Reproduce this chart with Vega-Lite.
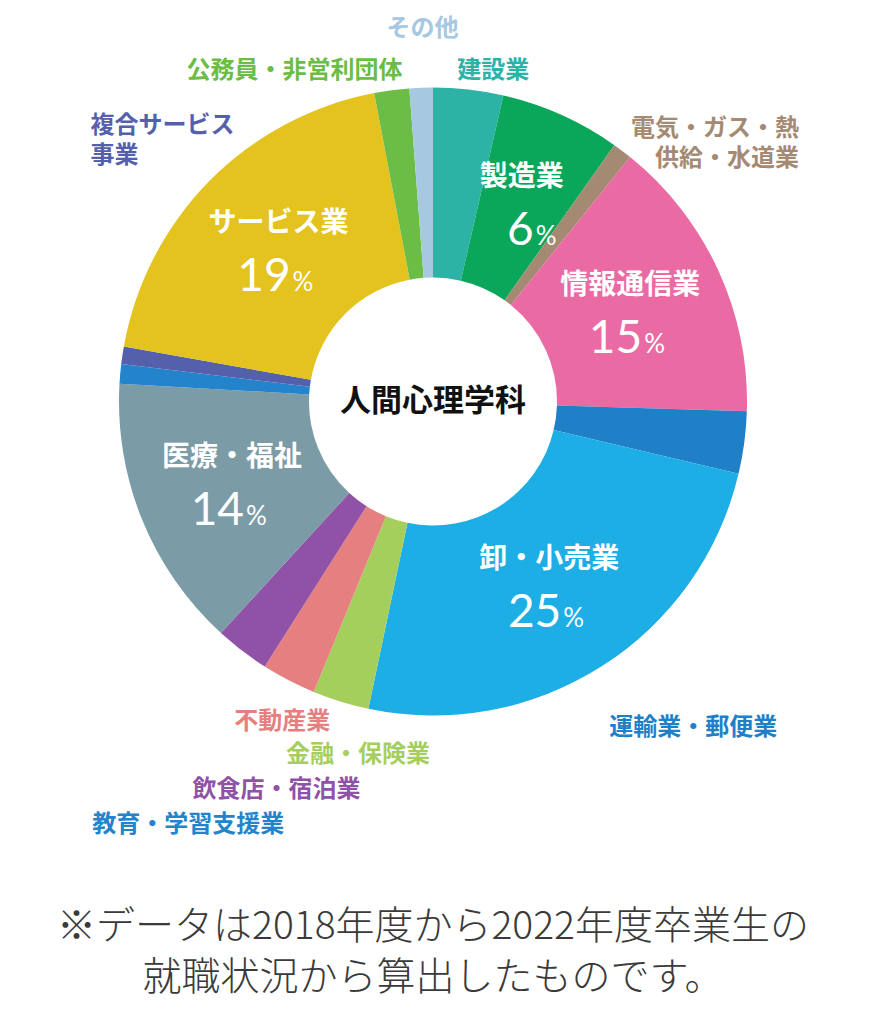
{
  "$schema": "https://vega.github.io/schema/vega-lite/v6.json",
  "width": 866,
  "height": 803,
  "autosize": {"type": "none"},
  "padding": {"left": 0, "top": 0, "right": 28, "bottom": 221},
  "background": "white",
  "config": {"view": {"stroke": null}},
  "title": {
    "text": ["※データは2018年度から2022年度卒業生の", "就職状況から算出したものです。"],
    "orient": "none",
    "anchor": "middle",
    "align": "center",
    "frame": "group",
    "dx": 433,
    "dy": 908,
    "baseline": "top",
    "font": "Noto Sans CJK JP",
    "fontSize": 39,
    "fontWeight": 300,
    "color": "#3a3a3a",
    "lineHeight": 51
  },
  "datasets": {
    "jobs": [
      {"rank": 1, "industry": "建設業", "label": "建設業", "share": 3.6},
      {"rank": 2, "industry": "製造業", "label": "製造業", "share": 6.2},
      {"rank": 3, "industry": "電気・ガス・熱供給・水道業", "label": "電気・ガス・熱\n供給・水道業", "share": 1.0},
      {"rank": 4, "industry": "情報通信業", "label": "情報通信業", "share": 14.7},
      {"rank": 5, "industry": "運輸業・郵便業", "label": "運輸業・郵便業", "share": 3.2},
      {"rank": 6, "industry": "卸・小売業", "label": "卸・小売業", "share": 24.6},
      {"rank": 7, "industry": "金融・保険業", "label": "金融・保険業", "share": 2.9},
      {"rank": 8, "industry": "不動産業", "label": "不動産業", "share": 2.8},
      {"rank": 9, "industry": "飲食店・宿泊業", "label": "飲食店・宿泊業", "share": 2.8},
      {"rank": 10, "industry": "医療・福祉", "label": "医療・福祉", "share": 14.1},
      {"rank": 11, "industry": "教育・学習支援業", "label": "教育・学習支援業", "share": 1.0},
      {"rank": 12, "industry": "複合サービス事業", "label": "複合サービス\n事業", "share": 0.9},
      {"rank": 13, "industry": "サービス業", "label": "サービス業", "share": 19.2},
      {"rank": 14, "industry": "公務員・非営利団体", "label": "公務員・非営利団体", "share": 1.8},
      {"rank": 15, "industry": "その他", "label": "その他", "share": 1.2}
    ],
    "center": [{"dept": "人間心理学科"}]
  },
  "layer": [
    {
      "data": {"name": "jobs"},
      "encoding": {
        "theta": {"field": "share", "type": "quantitative", "stack": true},
        "order": {"field": "rank", "type": "quantitative", "sort": "ascending"}
      },
      "layer": [
        {
          "mark": {"type": "arc", "outerRadius": 314, "innerRadius": 124},
          "encoding": {
            "color": {
              "field": "industry",
              "type": "nominal",
              "legend": null,
              "scale": {
                "domain": ["建設業", "製造業", "電気・ガス・熱供給・水道業", "情報通信業", "運輸業・郵便業", "卸・小売業", "金融・保険業", "不動産業", "飲食店・宿泊業", "医療・福祉", "教育・学習支援業", "複合サービス事業", "サービス業", "公務員・非営利団体", "その他"],
                "range": ["#2db3a6", "#0aa65a", "#a48a72", "#ea6aa3", "#1f80c8", "#1eaee6", "#a5cf5c", "#e67f80", "#8f52a6", "#7b9ba6", "#2384cc", "#5560ad", "#e4c31f", "#6bbd45", "#a6c8e0"]
              }
            }
          }
        },
        {
          "mark": {"type": "text", "radius": 217, "dy": -25, "font": "Noto Sans CJK JP", "fontWeight": "bold", "fontSize": 28, "color": "white", "align": "center", "baseline": "middle"},
          "encoding": {
            "text": {"condition": {"test": "indexof(['製造業','情報通信業','卸・小売業','医療・福祉','サービス業'], datum.industry) >= 0", "field": "label"}, "value": ""}
          }
        },
        {
          "mark": {"type": "text", "radius": 217, "dx": 12, "dy": 42, "font": "Lato", "fontSize": 46, "color": "white", "align": "right", "baseline": "alphabetic"},
          "encoding": {
            "text": {"condition": {"test": "indexof(['製造業','情報通信業','卸・小売業','医療・福祉','サービス業'], datum.industry) >= 0", "field": "share", "type": "quantitative", "format": ".0f"}, "value": ""}
          }
        },
        {
          "mark": {"type": "text", "radius": 217, "dx": 14, "dy": 42, "font": "Lato", "fontSize": 26, "color": "white", "align": "left", "baseline": "alphabetic"},
          "encoding": {
            "text": {"condition": {"test": "indexof(['製造業','情報通信業','卸・小売業','医療・福祉','サービス業'], datum.industry) >= 0", "value": "%"}, "value": ""}
          }
        },
        {
          "mark": {"type": "text", "radius": 330, "dx": 2, "dy": -43, "font": "Noto Sans CJK JP", "fontWeight": "bold", "fontSize": 24, "align": "center", "baseline": "middle"},
          "encoding": {
            "color": {"field": "industry", "type": "nominal", "legend": null},
            "text": {"condition": {"test": "datum.industry === 'その他'", "field": "label"}, "value": ""}
          }
        },
        {
          "mark": {"type": "text", "radius": 330, "dx": 23, "dy": -3, "font": "Noto Sans CJK JP", "fontWeight": "bold", "fontSize": 24, "align": "center", "baseline": "middle"},
          "encoding": {
            "color": {"field": "industry", "type": "nominal", "legend": null},
            "text": {"condition": {"test": "datum.industry === '建設業'", "field": "label"}, "value": ""}
          }
        },
        {
          "mark": {"type": "text", "radius": 330, "dx": -95, "dy": -3, "font": "Noto Sans CJK JP", "fontWeight": "bold", "fontSize": 24, "align": "center", "baseline": "middle"},
          "encoding": {
            "color": {"field": "industry", "type": "nominal", "legend": null},
            "text": {"condition": {"test": "datum.industry === '公務員・非営利団体'", "field": "label"}, "value": ""}
          }
        },
        {
          "mark": {"type": "text", "radius": 330, "dx": 167, "dy": -9, "font": "Noto Sans CJK JP", "fontWeight": "bold", "fontSize": 24, "align": "right", "baseline": "middle", "lineBreak": "\n", "lineHeight": 30},
          "encoding": {
            "color": {"field": "industry", "type": "nominal", "legend": null},
            "text": {"condition": {"test": "datum.industry === '電気・ガス・熱供給・水道業'", "field": "label"}, "value": ""}
          }
        },
        {
          "mark": {"type": "text", "radius": 330, "dx": -67, "dy": 283, "font": "Noto Sans CJK JP", "fontWeight": "bold", "fontSize": 24, "align": "center", "baseline": "middle"},
          "encoding": {
            "color": {"field": "industry", "type": "nominal", "legend": null},
            "text": {"condition": {"test": "datum.industry === '運輸業・郵便業'", "field": "label"}, "value": ""}
          }
        },
        {
          "mark": {"type": "text", "radius": 330, "dx": 22, "dy": 38, "font": "Noto Sans CJK JP", "fontWeight": "bold", "fontSize": 24, "align": "center", "baseline": "middle"},
          "encoding": {
            "color": {"field": "industry", "type": "nominal", "legend": null},
            "text": {"condition": {"test": "datum.industry === '金融・保険業'", "field": "label"}, "value": ""}
          }
        },
        {
          "mark": {"type": "text", "radius": 330, "dx": 1, "dy": 27, "font": "Noto Sans CJK JP", "fontWeight": "bold", "fontSize": 24, "align": "center", "baseline": "middle"},
          "encoding": {
            "color": {"field": "industry", "type": "nominal", "legend": null},
            "text": {"condition": {"test": "datum.industry === '不動産業'", "field": "label"}, "value": ""}
          }
        },
        {
          "mark": {"type": "text", "radius": 330, "dx": 44, "dy": 126, "font": "Noto Sans CJK JP", "fontWeight": "bold", "fontSize": 24, "align": "center", "baseline": "middle"},
          "encoding": {
            "color": {"field": "industry", "type": "nominal", "legend": null},
            "text": {"condition": {"test": "datum.industry === '飲食店・宿泊業'", "field": "label"}, "value": ""}
          }
        },
        {
          "mark": {"type": "text", "radius": 330, "dx": 84, "dy": 452, "font": "Noto Sans CJK JP", "fontWeight": "bold", "fontSize": 24, "align": "center", "baseline": "middle"},
          "encoding": {
            "color": {"field": "industry", "type": "nominal", "legend": null},
            "text": {"condition": {"test": "datum.industry === '教育・学習支援業'", "field": "label"}, "value": ""}
          }
        },
        {
          "mark": {"type": "text", "radius": 330, "dx": -16, "dy": -227, "font": "Noto Sans CJK JP", "fontWeight": "bold", "fontSize": 24, "align": "left", "baseline": "middle", "lineBreak": "\n", "lineHeight": 30},
          "encoding": {
            "color": {"field": "industry", "type": "nominal", "legend": null},
            "text": {"condition": {"test": "datum.industry === '複合サービス事業'", "field": "label"}, "value": ""}
          }
        }
      ]
    },
    {
      "data": {"name": "center"},
      "mark": {"type": "text", "font": "Noto Sans CJK JP", "fontWeight": "bold", "fontSize": 31, "color": "#111111", "align": "center", "baseline": "middle"},
      "encoding": {"text": {"field": "dept", "type": "nominal"}}
    }
  ]
}
